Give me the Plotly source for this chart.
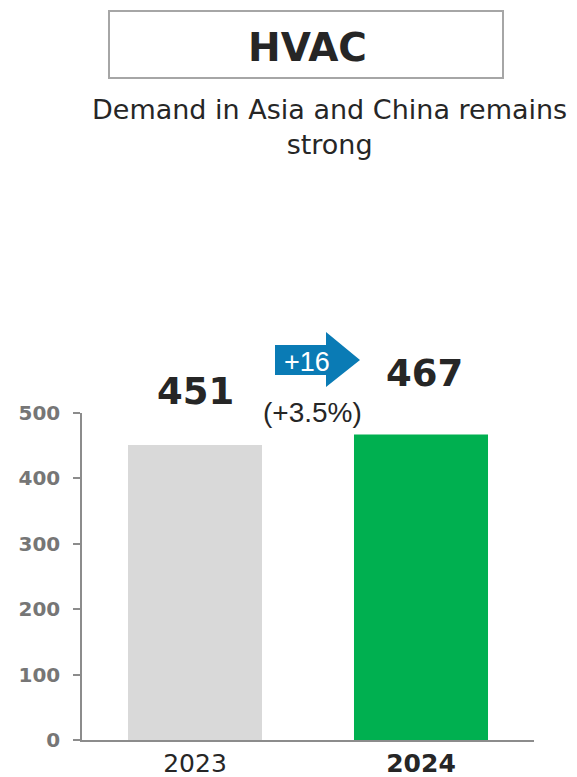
import plotly.graph_objects as go

# Segment revenue, HVAC
years = ["2023", "2024"]
revenue = [451, 467]
bar_colors = ["#d9d9d9", "#00b050"]
tick_text = ["2023", "<b>2024</b>"]
y_ticks = [0, 100, 200, 300, 400, 500]

title_text = "HVAC"
subtitle_text = "Demand in Asia and China remains<br>strong"
change_abs = "+16"
change_pct = "(+3.5%)"

W, H = 577, 777
L, R, T, B = 82, 43, 413, 37
plot_w = W - L - R
plot_h = H - T - B


def px(x):
    return (x - L) / plot_w


def py(y):
    return (H - B - y) / plot_h


fig = go.Figure(
    go.Bar(
        x=years,
        y=revenue,
        marker=dict(color=bar_colors, line=dict(width=0)),
        width=0.593,
        hoverinfo="skip",
    )
)

font_v = "DejaVu Sans, Verdana, sans-serif"
font_a = "Liberation Sans, Arial, sans-serif"

# Value labels above each bar (x given as category index)
shifts = [(0, 30), (3, 38)]
for i, (val, (dx, dy)) in enumerate(zip(revenue, shifts)):
    fig.add_annotation(
        x=i, y=val, text=f"<b>{val}</b>", showarrow=False,
        xanchor="center", yanchor="bottom", xshift=dx, yshift=dy,
        font=dict(family=font_v, size=37, color="#262626"),
    )


def paper_note(x, y, text, size, color, family):
    fig.add_annotation(
        x=px(x), y=py(y), xref="paper", yref="paper", text=text,
        showarrow=False, xanchor="center", yanchor="middle", align="center",
        font=dict(family=family, size=size, color=color),
    )


# Growth arrow between the bars
ax0, ax1, ax2 = px(275), px(326), px(360)
by0, by1 = py(375), py(345)
hy0, hy1, tip = py(387), py(332), py(360)
arrow_path = (
    f"M {ax0},{by0} L {ax1},{by0} L {ax1},{hy0} L {ax2},{tip} "
    f"L {ax1},{hy1} L {ax1},{by1} L {ax0},{by1} Z"
)
fig.add_shape(type="path", path=arrow_path, xref="paper", yref="paper",
              fillcolor="#0a7bb5", line=dict(width=0))
paper_note(307, 362, change_abs, 27, "white", font_a)
paper_note(312, 412, change_pct, 28, "#262626", font_a)

# Title box and subtitle
fig.add_shape(type="rect", xref="paper", yref="paper",
              x0=px(109), x1=px(503), y0=py(78), y1=py(11),
              line=dict(color="#a6a6a6", width=2), fillcolor="white",
              layer="below")
paper_note(307, 47, f"<b>{title_text}</b>", 39, "#262626", font_v)
paper_note(329, 127, subtitle_text, 27, "#262626", font_v)

fig.update_layout(
    width=W, height=H,
    margin=dict(l=L, r=R, t=T, b=B, pad=0, autoexpand=False),
    paper_bgcolor="white", plot_bgcolor="white",
    showlegend=False,
    xaxis=dict(
        type="category", range=[-0.5, 1.5], automargin=False,
        tickvals=years, ticktext=tick_text,
        showline=True, linecolor="#8c8c8c", linewidth=1.5,
        ticks="", showgrid=False, zeroline=False,
        tickfont=dict(family=font_v, size=25, color="#262626"),
    ),
    yaxis=dict(
        range=[0, 500], tickvals=y_ticks, automargin=False,
        showline=True, linecolor="#8c8c8c", linewidth=1.5,
        ticks="outside", ticklen=7, tickcolor="#8c8c8c", tickwidth=1.5,
        ticklabelstandoff=9,
        showgrid=False, zeroline=False,
        tickfont=dict(family=font_v, size=20, color="#767676", weight="bold"),
    ),
)

fig.write_html("out.html")
